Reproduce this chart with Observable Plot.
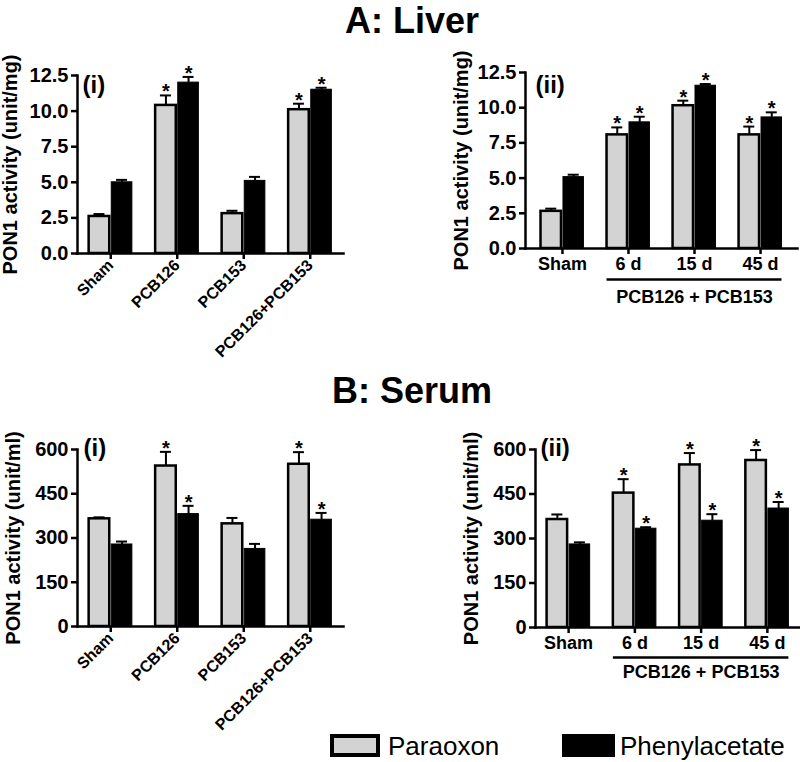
<!DOCTYPE html>
<html><head><meta charset="utf-8">
<script src="https://cdn.jsdelivr.net/npm/d3@7"></script>
<script src="https://cdn.jsdelivr.net/npm/@observablehq/plot@0.6"></script>
<style>
body{margin:0;background:#fff;font-family:"Liberation Sans",Arial,sans-serif;color:#000;}
#root{position:relative;width:800px;height:762px;overflow:hidden;background:#fff;}
.panel{position:absolute;}
.title{position:absolute;left:0;width:824px;text-align:center;font-weight:bold;font-size:36px;line-height:normal;}
.sw{position:absolute;box-sizing:border-box;height:23px;top:734px;border:4px solid #000;}
.lt{position:absolute;top:733px;font-size:26px;line-height:1;}
</style>
</head><body>
<div id="root">
  <div class="title" style="top:0px">A: Liver</div>
  <div class="title" style="top:370px">B: Serum</div>
  <div class="sw" style="left:330px;width:50px;background:#d3d3d3"></div>
  <div class="lt" style="left:388px">Paraoxon</div>
  <div class="sw" style="left:562px;width:53px;background:#000"></div>
  <div class="lt" style="left:620px">Phenylacetate</div>
</div>
<script>
// ---------- data ----------
const treatGroups = ["Sham", "PCB126", "PCB153", "PCB126+PCB153"];
const timeGroups = ["Sham", "6 d", "15 d", "45 d"];
const seriesNames = ["Paraoxon", "Phenylacetate"];
const comboLabel = "PCB126 + PCB153";

const liverTicks = [0, 2.5, 5, 7.5, 10, 12.5];
const serumTicks = [0, 150, 300, 450, 600];

// A(i) liver, treatments
const liverTreatPar = [2.6, 10.4, 2.8, 10.1];
const liverTreatParErr = [0.17, 0.7, 0.2, 0.42];
const liverTreatParSig = [false, true, false, true];
const liverTreatPhe = [5.0, 12.0, 5.1, 11.5];
const liverTreatPheErr = [0.17, 0.4, 0.28, 0.14];
const liverTreatPheSig = [false, true, false, true];

// A(ii) liver, time course
const liverTimePar = [2.64, 8.07, 10.14, 8.07];
const liverTimeParErr = [0.19, 0.53, 0.36, 0.59];
const liverTimeParSig = [false, true, true, true];
const liverTimePhe = [5.07, 8.96, 11.56, 9.31];
const liverTimePheErr = [0.17, 0.4, 0.12, 0.36];
const liverTimePheSig = [false, true, true, true];

// B(i) serum, treatments
const serumTreatPar = [365, 544, 348, 550];
const serumTreatParErr = [5, 48, 20, 41];
const serumTreatParSig = [false, true, false, true];
const serumTreatPhe = [278, 381, 263, 362];
const serumTreatPheErr = [10, 28, 17, 23];
const serumTreatPheSig = [false, true, false, true];

// B(ii) serum, time course
const serumTimePar = [364, 453, 548, 563];
const serumTimeParErr = [17, 47, 40, 35];
const serumTimeParSig = [false, true, true, true];
const serumTimePhe = [280, 333, 360, 401];
const serumTimePheErr = [7, 5, 22, 22];
const serumTimePheSig = [false, true, true, true];

// ---------- drawing ----------
const FONT = "'Liberation Sans', Arial, sans-serif";
const GRAY = "#d3d3d3";

function rowsFor(groups, series, vals, errs, sigs) {
  return groups.map((g, i) => ({group: g, series, value: vals[i], top: vals[i] + errs[i], sig: sigs[i]}));
}

function panel(cfg) {
  const g = cfg.groups;
  const P = rowsFor(g, seriesNames[0], cfg.par, cfg.parErr, cfg.parSig);
  const B = rowsFor(g, seriesNames[1], cfg.phe, cfg.pheErr, cfg.pheSig);
  const step = (cfg.width - cfg.mL - cfg.mR) / (g.length - cfg.pi + 2 * cfg.po);
  const bw = step * (1 - cfg.pi);
  const off = bw / 4 + 0.5;
  const capInset = (bw - 11) / 2;
  const marks = [
    Plot.ruleX(P, {x: "group", y1: "value", y2: "top", dx: -off, strokeWidth: 2}),
    Plot.tickY(P, {x: "group", y: "top", dx: -off, insetLeft: capInset, insetRight: capInset, strokeWidth: 2}),
    Plot.ruleX(B, {x: "group", y1: "value", y2: "top", dx: off, strokeWidth: 2}),
    Plot.tickY(B, {x: "group", y: "top", dx: off, insetLeft: capInset, insetRight: capInset, strokeWidth: 2}),
    Plot.barY(P, {x: "group", y: "value", fill: GRAY, stroke: "#000", strokeWidth: 2.5, insetRight: bw / 2 + 1}),
    Plot.barY(B, {x: "group", y: "value", fill: "#000", stroke: "#000", strokeWidth: 1, insetLeft: bw / 2 + 1}),
    Plot.text(P.filter(d => d.sig), {x: "group", y: "top", text: () => "*", dx: -off, dy: cfg.starDy, fontSize: 20, fontWeight: "bold", lineAnchor: "bottom"}),
    Plot.text(B.filter(d => d.sig), {x: "group", y: "top", text: () => "*", dx: off, dy: cfg.starDy, fontSize: 20, fontWeight: "bold", lineAnchor: "bottom"}),
    Plot.frame({anchor: "left", strokeWidth: 2.5}),
    Plot.frame({anchor: "bottom", strokeWidth: 2.5}),
    Plot.axisY(cfg.ticks, {tickFormat: cfg.fmt, tickSize: 6, strokeWidth: 2.5, tickPadding: 3, fontSize: 20, fontWeight: "bold",
      label: cfg.yLabel, labelAnchor: "center", labelOffset: cfg.labelOffset, labelArrow: "none"}),
    Plot.axisX({tickSize: 6, strokeWidth: 2.5, tickPadding: 3, fontSize: cfg.xFont, fontWeight: "bold", tickRotate: cfg.rotate, label: null}),
    Plot.text([cfg.tag], {frameAnchor: "top-left", text: d => d, dx: cfg.tagDx, dy: cfg.tagDy, lineAnchor: "top", textAnchor: "start", fontSize: 24, fontWeight: "bold"})
  ];
  if (cfg.bracket) {
    marks.push(Plot.ruleY([0], {x1: () => g[1], x2: () => g[3], dy: cfg.bracketDy, strokeWidth: 2.5}));
    marks.push(Plot.text([cfg.bracket], {x: () => g[2], y: () => 0, text: d => d, dy: cfg.bracketTextDy, fontSize: 18, fontWeight: "bold", lineAnchor: "bottom"}));
  }
  const chart = Plot.plot({
    width: cfg.width, height: cfg.height,
    marginLeft: cfg.mL, marginRight: cfg.mR, marginTop: cfg.mT, marginBottom: cfg.mB,
    x: {domain: g, paddingInner: cfg.pi, paddingOuter: cfg.po, align: 0.5, round: false, axis: null},
    y: {domain: [0, cfg.yMax], axis: null},
    style: {fontFamily: FONT, fontWeight: "bold", fontSize: "19px", color: "#000", background: "transparent", overflow: "visible"},
    marks
  });
  const wrap = document.createElement("div");
  wrap.className = "panel";
  wrap.style.left = cfg.left + "px";
  wrap.style.top = cfg.top + "px";
  wrap.appendChild(chart);
  document.getElementById("root").appendChild(wrap);
}

const liverFmt = d3.format(".1f");
const serumFmt = d3.format("d");

panel({groups: treatGroups, par: liverTreatPar, parErr: liverTreatParErr, parSig: liverTreatParSig,
  phe: liverTreatPhe, pheErr: liverTreatPheErr, pheSig: liverTreatPheSig,
  ticks: liverTicks, fmt: liverFmt, yMax: 12.5, yLabel: "PON1 activity (unit/mg)", labelOffset: 75,
  left: 0, top: 40, width: 400, height: 320, mL: 77, mR: 57, mT: 35, mB: 107, pi: 0.35, po: 0.175,
  rotate: -45, xFont: 16, tag: "(i)", tagDx: 5, tagDy: 0, starDy: 3});

panel({groups: timeGroups, par: liverTimePar, parErr: liverTimeParErr, parSig: liverTimeParSig,
  phe: liverTimePhe, pheErr: liverTimePheErr, pheSig: liverTimePheSig,
  ticks: liverTicks, fmt: liverFmt, yMax: 12.5, yLabel: "PON1 activity (unit/mg)", labelOffset: 72,
  left: 400, top: 40, width: 400, height: 280, mL: 125, mR: 3, mT: 32, mB: 72, pi: 0.35, po: 0.235,
  rotate: 0, xFont: 18, tag: "(ii)", tagDx: 10, tagDy: 3, starDy: 3,
  bracket: comboLabel, bracketDy: 31, bracketTextDy: 54});

panel({groups: treatGroups, par: serumTreatPar, parErr: serumTreatParErr, parSig: serumTreatParSig,
  phe: serumTreatPhe, pheErr: serumTreatPheErr, pheSig: serumTreatPheSig,
  ticks: serumTicks, fmt: serumFmt, yMax: 600, yLabel: "PON1 activity (unit/ml)", labelOffset: 72,
  left: 0, top: 400, width: 400, height: 340, mL: 77, mR: 57, mT: 49, mB: 114, pi: 0.35, po: 0.175,
  rotate: -45, xFont: 16, tag: "(i)", tagDx: 6, tagDy: -11, starDy: 3});

panel({groups: timeGroups, par: serumTimePar, parErr: serumTimeParErr, parSig: serumTimeParSig,
  phe: serumTimePhe, pheErr: serumTimePheErr, pheSig: serumTimePheSig,
  ticks: serumTicks, fmt: serumFmt, yMax: 600, yLabel: "PON1 activity (unit/ml)", labelOffset: 72,
  left: 400, top: 400, width: 400, height: 300, mL: 135, mR: 0, mT: 49, mB: 73, pi: 0.35, po: 0.175,
  rotate: 0, xFont: 18, tag: "(ii)", tagDx: 5, tagDy: -11, starDy: 3,
  bracket: comboLabel, bracketDy: 30, bracketTextDy: 50});
</script>
</body></html>
